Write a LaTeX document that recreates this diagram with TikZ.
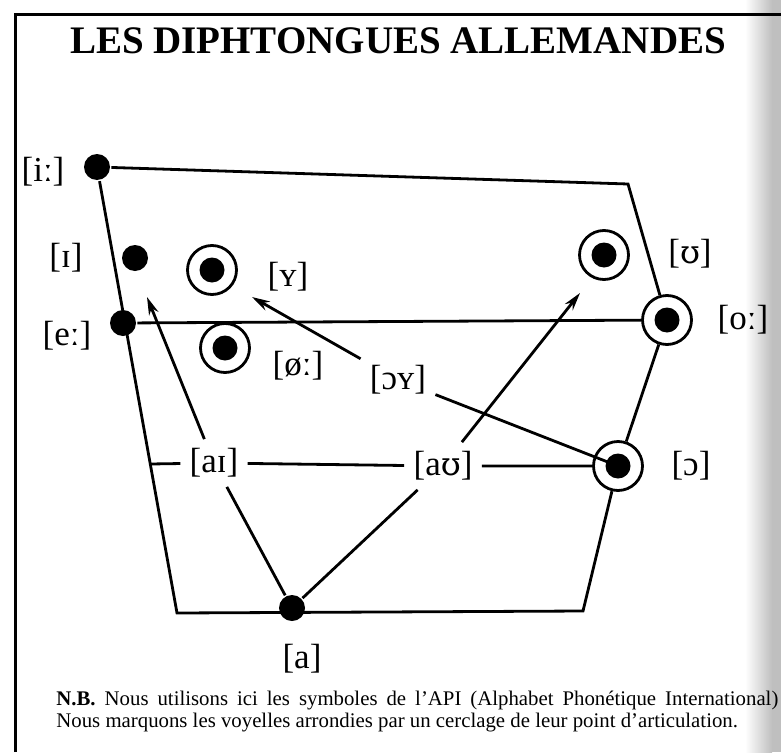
\documentclass[tikz,border=0pt]{standalone}
\usepackage{fontspec}
\setmainfont{Liberation Serif}
\newfontfamily\ipafont[Scale=0.92]{DejaVu Serif}
\usetikzlibrary{arrows.meta}

\newcommand{\upsil}{{\ipafont ʊ}}

\begin{document}
\begin{tikzpicture}[
    x=1pt, y=-1pt, line width=2.8pt,
    vowel/.style={circle, fill=black, minimum size=26pt, inner sep=0pt},
    rvowel/.style={circle, draw, minimum size=49pt, inner sep=0pt,
                   path picture={\fill (path picture bounding box.center) circle (12.5pt);}},
    lbl/.style={font=\fontsize{35}{40}\selectfont, inner sep=0pt},
    diph/.style={lbl, inner sep=8pt},
    note/.style={font=\fontsize{20.8}{24}\selectfont, inner sep=0pt, anchor=base west},
    arr/.style={-{Stealth[length=18pt, width=10pt]}}
]
\useasboundingbox (0,0) rectangle (781,752);
\fill[white] (0,0) rectangle (781,752);
\shade[left color=white, right color=black!25] (745,0) rectangle (772,752);
\fill[black!25] (772,0) rectangle (781,752);
\draw[line width=3pt] (15,752) -- (15,15) -- (781,15);

\node[font=\fontsize{39}{44}\selectfont\bfseries, anchor=base] (title) at (398,53) {LES DIPHTONGUES ALLEMANDES};

% points d'articulation
\node[vowel] (i) at (97,167) {};
\node[vowel] (I) at (135,258) {};
\node[vowel] (e) at (123,323) {};
\node[vowel] (a) at (292,608) {};
\node[rvowel] (Y) at (212,270) {};
\node[rvowel] (oe) at (225,348) {};
\node[rvowel] (U) at (604,255) {};
\node[rvowel] (o) at (667,320) {};
\node[rvowel] (oo) at (618,466) {};

\coordinate (tr) at (628,184);
\coordinate (br) at (583,611);
\coordinate (bl) at (177,613);
\coordinate (lm) at (150,464);

% trapeze
\draw (i) -- (tr) -- (o) -- (oo) -- (br) -- (bl) -- (i);
\draw (e) -- (o);

% etiquettes
\node[lbl] (li) at (43,172) {[iː]};
\node[lbl] (lI) at (66,258) {[ɪ]};
\node[lbl] (le) at (67,336) {[eː]};
\node[lbl] (lY) at (288,277) {[ʏ]};
\node[lbl] (loe) at (298,366) {[øː]};
\node[lbl] (lU) at (690,254) {[\upsil]};
\node[lbl] (lo) at (743,320) {[oː]};
\node[lbl] (loo) at (691,466) {[ɔ]};
\node[lbl] (la) at (302,659) {[a]};

% diphtongues
\node[diph] (aI) at (214,463) {[aɪ]};
\node[diph] (aU) at (443,466) {[a\upsil]};
\node[diph] (oY) at (398,380) {[ɔʏ]};

\coordinate (tI) at (147,297);
\coordinate (tU) at (580,293);
\coordinate (tY) at (252,297);

\draw (lm) -- (aI) -- (aU) -- (aU -| oo.west);
\draw (a) -- (aI);
\draw[arr] (aI) -- (tI);
\draw (a) -- (aU);
\draw[arr] (aU) -- (tU);
\draw (oo.center) -- (oY);
\draw[arr] (oY) -- (tY);

\node[note] (nb1) at (55,705) {\makebox[722pt][s]{\textbf{N.B.} Nous utilisons ici les symboles de l'API (Alphabet Phonétique International)}};
\node[note] (nb2) at (55,727) {Nous marquons les voyelles arrondies par un cerclage de leur point d'articulation.};
\end{tikzpicture}
\end{document}
